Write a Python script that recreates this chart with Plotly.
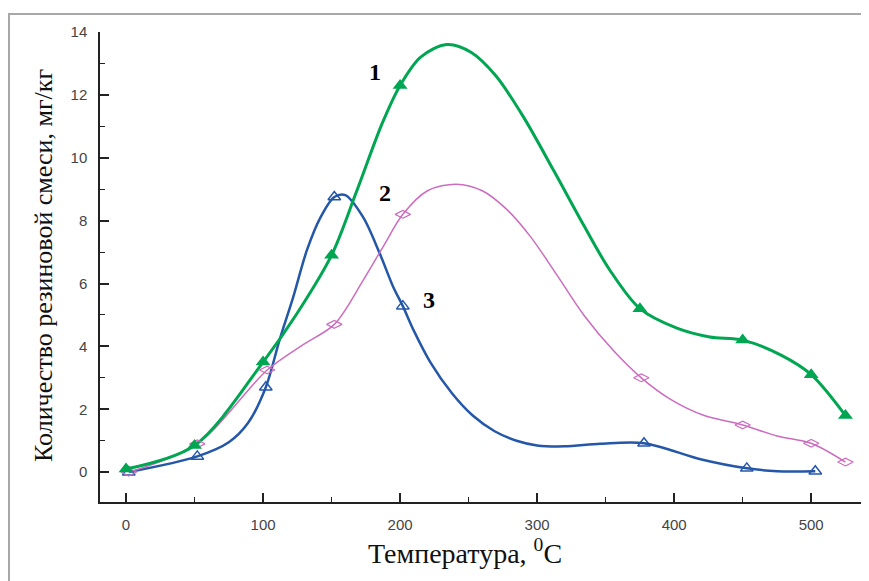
import plotly.graph_objects as go

# ---- data ----
# measured points (markers)
s1_x = [0, 50, 100, 150, 200, 375, 450, 500, 525]
s1_y = [0.1, 0.85, 3.5, 6.9, 12.3, 5.2, 4.2, 3.1, 1.8]
s2_x = [2, 52, 103, 152, 202, 376, 450, 500, 525]
s2_y = [0.0, 0.9, 3.25, 4.7, 8.2, 3.0, 1.5, 0.92, 0.32]
s3_x = [2, 52, 102, 152, 202, 378, 453, 503]
s3_y = [0.0, 0.5, 2.7, 8.75, 5.28, 0.92, 0.12, 0.03]

# smoothed curves as traced in the picture
c1_x = [0, 50, 100, 125, 150, 168, 187, 200, 215, 234, 252, 270, 290, 312, 334, 353, 375, 402, 426, 450, 478, 500, 525]
c1_y = [0.1, 0.85, 3.5, 5.06, 6.9, 8.9, 11.1, 12.3, 13.2, 13.6, 13.35, 12.6, 11.3, 9.6, 7.85, 6.43, 5.2, 4.58, 4.3, 4.2, 3.72, 3.1, 1.8]
c2_x = [2, 52, 103, 129, 152, 173, 188, 202, 220, 241, 260, 278, 295, 314, 334, 356, 376, 398, 422, 450, 475, 500, 525]
c2_y = [0.0, 0.9, 3.25, 4.05, 4.7, 6.1, 7.2, 8.2, 8.95, 9.16, 8.95, 8.35, 7.5, 6.3, 5.0, 3.85, 3.0, 2.3, 1.8, 1.5, 1.15, 0.92, 0.32]
c3_x = [2, 52, 75, 89, 102, 112, 122, 132, 142, 152, 160, 173, 185, 195, 202, 210, 222, 238, 253, 269, 285, 300, 320, 346, 378, 420, 453, 475, 503]
c3_y = [0.0, 0.5, 0.95, 1.56, 2.7, 4.2, 5.57, 7.06, 8.11, 8.75, 8.81, 8.11, 6.97, 5.89, 5.28, 4.5, 3.5, 2.5, 1.8, 1.3, 1.0, 0.85, 0.82, 0.9, 0.92, 0.4, 0.12, 0.03, 0.03]

x_ticks = [0, 100, 200, 300, 400, 500]
y_ticks = [0, 2, 4, 6, 8, 10, 12, 14]
curve_labels = ["1", "2", "3"]
label_pos = [(182, 12.73), (189, 8.88), (221, 5.47)]

x_title = "Температура, <sup>0</sup>C"
y_title = "Количество резиновой смеси, мг/кг"

GREEN = "#00A651"
PINK = "#CC6CBF"
BLUE = "#2457A8"

fig = go.Figure()
# curves
fig.add_trace(go.Scatter(x=c3_x, y=c3_y, mode="lines", line=dict(color=BLUE, width=2.5, shape="spline", smoothing=0.9), showlegend=False))
fig.add_trace(go.Scatter(x=c2_x, y=c2_y, mode="lines", line=dict(color=PINK, width=1.5, shape="spline", smoothing=0.9), showlegend=False))
fig.add_trace(go.Scatter(x=c1_x, y=c1_y, mode="lines", line=dict(color=GREEN, width=3, shape="spline", smoothing=0.9), showlegend=False))
# markers
fig.add_trace(go.Scatter(x=s3_x, y=s3_y, mode="markers",
                         marker=dict(symbol="triangle-up-open", size=11, color=BLUE, line=dict(width=1.5, color=BLUE)), showlegend=False))
fig.add_trace(go.Scatter(x=s2_x, y=s2_y, mode="markers",
                         marker=dict(symbol="diamond-wide-open", size=11, color=PINK, line=dict(width=1.2, color=PINK)), showlegend=False))
fig.add_trace(go.Scatter(x=s1_x, y=s1_y, mode="markers",
                         marker=dict(symbol="triangle-up", size=13, color=GREEN, line=dict(width=0)), showlegend=False))

for t, (lx, ly) in zip(curve_labels, label_pos):
    fig.add_annotation(x=lx, y=ly, text="<b>" + t + "</b>", showarrow=False,
                       font=dict(family="Liberation Serif", size=24, color="black"))

# plot area in figure pixels: x 92..858, y 24..494 (page body adds 8px offset)
fig.add_annotation(x=(457 - 92) / 766, y=(494 - 543) / 470, xref="paper", yref="paper", text=x_title,
                   showarrow=False, xanchor="center", yanchor="middle",
                   font=dict(family="Liberation Serif", size=28, color="#111"))
fig.add_annotation(x=(35 - 92) / 766, y=(494 - 258) / 470, xref="paper", yref="paper", text=y_title,
                   showarrow=False, xanchor="center", yanchor="middle", textangle=-90,
                   font=dict(family="Liberation Serif", size=26, color="#111"))

# outer gray frame
fig.add_shape(type="rect", xref="paper", yref="paper", x0=-91 / 766, y0=-0.3, x1=1.2, y1=(494 - 6) / 470,
              line=dict(color="#A8A8A8", width=2), layer="below")

axis_font = dict(family="Liberation Sans", size=15, color="#444")
fig.update_layout(
    width=861, height=573,
    margin=dict(l=92, r=3, t=24, b=79),
    plot_bgcolor="white", paper_bgcolor="white",
    xaxis=dict(range=[-19, 540], tickvals=x_ticks, showgrid=False, zeroline=False,
               showline=True, linecolor="#222", linewidth=1.5,
               ticks="inside", ticklen=9, tickwidth=1.5, tickcolor="#222",
               minor=dict(dtick=50, tick0=0, ticks="inside", ticklen=5, tickwidth=1.2, tickcolor="#222", showgrid=False),
               tickfont=axis_font, ticklabelstandoff=8),
    yaxis=dict(range=[-0.95, 14], tickvals=y_ticks, showgrid=False, zeroline=False,
               showline=True, linecolor="#222", linewidth=1.5,
               ticks="inside", ticklen=9, tickwidth=1.5, tickcolor="#222",
               minor=dict(dtick=1, tick0=0, ticks="inside", ticklen=5, tickwidth=1.2, tickcolor="#222", showgrid=False),
               tickfont=axis_font, ticklabelstandoff=8),
)

fig.write_html("out.html")
